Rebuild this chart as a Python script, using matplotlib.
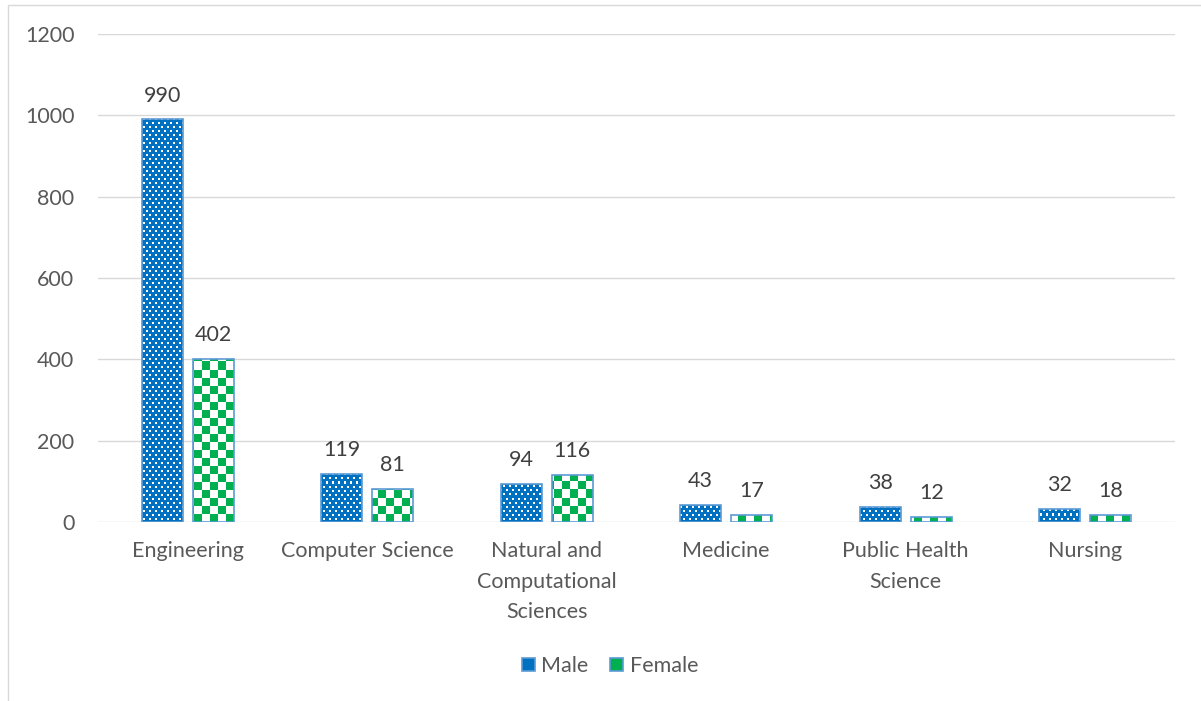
import numpy as np
import matplotlib.pyplot as plt
import matplotlib
from matplotlib.patches import Patch, Rectangle

matplotlib.rcParams['font.family'] = ['Lato', 'DejaVu Sans']

fields = ['Engineering', 'Computer Science', 'Natural and\nComputational\nSciences',
          'Medicine', 'Public Health\nScience', 'Nursing']
male = [990, 119, 94, 43, 38, 32]
female = [402, 81, 116, 17, 12, 18]

blue = '#0070C0'
green = '#00B050'
edge = '#5B9BD5'
txt = '#595959'
fs = 15.5

fig = plt.figure(figsize=(12.01, 7.01), dpi=100)
ax = fig.add_axes([0.0816, 0.2553, 0.8967, 0.6962])

# outer chart frame
fig.patches.append(Rectangle((8 / 1201, -0.01), 1.2, 1 - 5 / 701 + 0.01, transform=fig.transFigure,
                             fill=False, edgecolor='#D9D9D9', linewidth=1))

x = np.arange(len(fields))
w = 0.228
off = 0.142

# fill patterns in screen pixels (size of the axes area)
H, W = 488, 1077
yy, xx = np.mgrid[0:H, 0:W]
# white dots on blue
row = yy // 4
dots = ((yy % 4) < 2) & (((xx + (row % 2) * 3) % 6) < 2)
dot_img = np.zeros((H, W, 3))
dot_img[:] = matplotlib.colors.to_rgb(blue)
dot_img[dots] = (1, 1, 1)
# green checkers on white
chk = ((yy // 8) + (xx // 8)) % 2 == 0
chk_img = np.ones((H, W, 3))
chk_img[chk] = matplotlib.colors.to_rgb(green)

ext = (-0.5, len(fields) - 0.5, 0, 1200)
bm = ax.bar(x - off, male, w, facecolor='none', edgecolor=edge, linewidth=1.2, zorder=3)
bf = ax.bar(x + off, female, w, facecolor='none', edgecolor=edge, linewidth=1.2, zorder=3)
for b in bm:
    im = ax.imshow(dot_img, extent=ext, aspect='auto', interpolation='nearest', zorder=2)
    im.set_clip_path(b)
for b in bf:
    im = ax.imshow(chk_img, extent=ext, aspect='auto', interpolation='nearest', zorder=2)
    im.set_clip_path(b)
ax.set_xlim(-0.5, len(fields) - 0.5)
ax.set_ylim(0, 1200)

for xi, v in zip(x - off, male):
    ax.annotate(str(v), (xi, v), xytext=(0, 10), textcoords='offset points',
                ha='center', va='bottom', fontsize=fs, color='#404040')
for xi, v in zip(x + off, female):
    ax.annotate(str(v), (xi, v), xytext=(0, 10), textcoords='offset points',
                ha='center', va='bottom', fontsize=fs, color='#404040')

ax.set_yticks(range(0, 1201, 200))
ax.set_xticks(x)
ax.set_xticklabels(fields, linespacing=1.65)
ax.tick_params(axis='both', length=0, labelsize=fs, labelcolor=txt)
ax.tick_params(axis='y', pad=17)
ax.tick_params(axis='x', pad=14)
ax.grid(axis='y', color='#D9D9D9', linewidth=1)
ax.set_axisbelow(True)
for s in ax.spines.values():
    s.set_visible(False)

handles = [Patch(facecolor=blue, edgecolor=edge, linewidth=1.2),
           Patch(facecolor=green, edgecolor=edge, linewidth=1.2)]
fig.legend(handles, ['Male', 'Female'], loc='center', bbox_to_anchor=(0.508, 1 - 666 / 701),
           ncol=2, frameon=False, fontsize=fs, labelcolor=txt, handlelength=0.6,
           handleheight=0.6, handletextpad=0.3, columnspacing=1.0)

fig.savefig('out.png', dpi=100)
